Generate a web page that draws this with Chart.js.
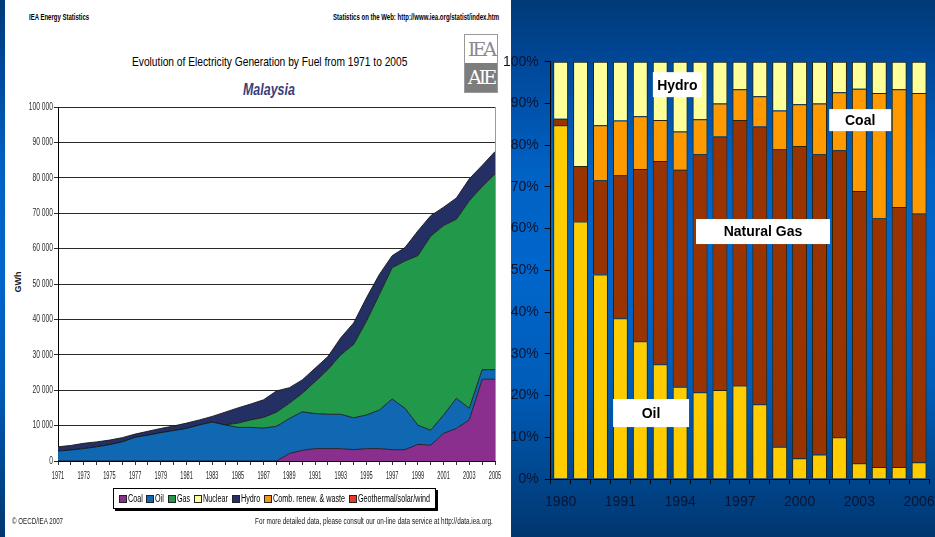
<!DOCTYPE html>
<html>
<head>
<meta charset="utf-8">
<script src="https://cdn.jsdelivr.net/npm/chart.js@4.4.0/dist/chart.umd.min.js"></script>
<style>
html,body{margin:0;padding:0;width:935px;height:537px;overflow:hidden;}
body{position:relative;background:linear-gradient(to bottom,#003a76 0%,#00489a 12%,#0062c4 32%,#0066cc 50%,#005cb8 72%,#004790 88%,#00366f 100%);
  font-family:"Liberation Sans",Arial,sans-serif;}
#paper{position:absolute;left:5px;top:0;width:506px;height:537px;background:#fff;}
.t{position:absolute;white-space:nowrap;color:#000;transform-origin:left center;}
#hdrL{left:29px;top:12px;font-size:8.5px;font-weight:bold;}
#hdrR{left:333px;top:12px;font-size:8.5px;font-weight:bold;}
#title{left:132px;top:54px;font-size:13px;}
#country{left:243px;top:80px;font-size:17px;font-weight:bold;font-style:italic;color:#3a3d78;}
#gwh{left:7px;top:277px;font-size:9px;font-weight:bold;transform:rotate(-90deg);transform-origin:center;color:#222;}
#logo{position:absolute;left:464px;top:34px;width:32px;height:57px;border:1px solid #999;background:#fff;overflow:hidden;}
#logo .a{height:28px;color:#8a8a8a;font:19px "DejaVu Serif",serif;text-align:center;line-height:28px;letter-spacing:-3px;}
#logo .b{height:29px;background:#7d7d7d;color:#fff;font:19px "DejaVu Serif",serif;text-align:center;line-height:29px;letter-spacing:-3px;}
#legend{position:absolute;left:113px;top:488px;width:321px;height:19px;border:1px solid #000;box-shadow:2px 2px 0 #000;background:#fff;
  display:flex;align-items:center;justify-content:center;gap:4px;font-size:10px;}
#legend .i{display:inline-flex;align-items:center;gap:1px;}
#legend .s{display:inline-block;width:6px;height:6px;border:1px solid #222;flex:none;}
#legend .w{display:inline-block;overflow:visible;white-space:nowrap;}
#legend .w span{display:inline-block;transform-origin:left center;}
#copy{left:12px;top:516px;font-size:8.5px;color:#222;}
#more{left:255px;top:516px;font-size:8.5px;color:#111;}
#leftWrap{position:absolute;left:5px;top:95px;width:505px;height:395px;}
#rightWrap{position:absolute;left:495px;top:40px;width:450px;height:497px;}
</style>
</head>
<body>
<div id="paper"></div>
<div class="t" id="hdrL">IEA Energy Statistics</div>
<div class="t" id="hdrR">Statistics on the Web: http://www.iea.org/statist/index.htm</div>
<div class="t" id="title">Evolution of Electricity Generation by Fuel from 1971 to 2005</div>
<div class="t" id="country">Malaysia</div>
<div id="logo"><div class="a">IEA</div><div class="b">AIE</div></div>
<div class="t" id="gwh">GWh</div>
<div id="leftWrap"><canvas id="genChart"></canvas></div>
<div id="legend"></div>
<div class="t" id="copy">© OECD/IEA 2007</div>
<div class="t" id="more">For more detailed data, please consult our on-line data service at http://data.iea.org.</div>
<div id="rightWrap"><canvas id="shareChart"></canvas></div>
<script>
// left chart: generation by fuel, GWh
const years = ['1971','1972','1973','1974','1975','1976','1977','1978','1979','1980',
  '1981','1982','1983','1984','1985','1986','1987','1988','1989','1990',
  '1991','1992','1993','1994','1995','1996','1997','1998','1999','2000',
  '2001','2002','2003','2004','2005'];
const coal = [0,0,0,0,0,0,0,0,0,0, 0,0,0,0,0,0,0,0,2100,3000,
  3500,3500,3500,3200,3500,3500,3200,3200,4700,4500, 7800,9200,11600,23100,23100];
const oil = [2800,3100,3500,4000,4600,5400,6700,7300,8000,8600,
  9200,10200,11000,10200,9500,9500,9300,9800,9900,10900,
  9900,9700,9700,9000,9500,10900,14300,11700,5400,4200, 5200,8500,3300,2700,2700];
const gas = [0,0,0,0,0,0,0,0,0,0, 0,0,0,0,1200,2100,3000,4000,4300,5200,
  9000,12600,16800,20700,26500,32600,37100,41600,47900,54800, 53500,50600,58600,51700,55300];
const hydro = [1200,1300,1500,1400,1300,1200,900,1100,1200,1300,
  1500,1400,1600,3600,4300,4500,5000,6000,4400,3800,
  3800,3700,4800,6100,6600,5700,3400,3800,7000,5800, 5200,6000,6200,6000,6300];
const legendNames = ['Coal','Oil','Gas','Nuclear','Hydro','Comb. renew. & waste','Geothermal/solar/wind'];
const legendColors = ['#8a2f8e','#1068b3','#21984a','#ffff99','#242f63','#f7941d','#e8392b'];

// right chart: share of generation, %
const shareYears = ['1980','1989','1990','1991','1992','1993','1994','1995','1996','1997',
  '1998','1999','2000','2001','2002','2003','2004','2005','2006'];
const oilPct = [84.8,61.7,49.0,38.5,33.0,27.5,22.1,20.8,21.3,22.4,17.9,7.7,5.0,5.9,10.0,3.8,2.9,2.9,4.0];
const gasPct = [1.5,13.3,22.6,34.3,41.3,48.7,52.0,57.0,60.8,63.6,66.6,71.3,74.8,71.9,68.8,65.2,59.6,62.3,59.6];
const coalPct = [0,0,13.2,13.1,12.6,9.8,9.2,8.4,7.9,7.4,7.2,9.3,10.0,12.2,13.9,24.5,30.0,28.2,28.9];
const hydroPct = [13.7,25.0,15.2,14.1,13.1,14.0,16.7,13.8,10.0,6.6,8.3,11.7,10.2,10.0,7.3,6.5,7.5,6.6,7.5];
const notes = [
  {text:'Hydro', at:5.86, pct:94.5, w:49, h:25},
  {text:'Coal', at:15.04, pct:86.0, w:62, h:22},
  {text:'Natural Gas', at:10.16, pct:59.3, w:134, h:25},
  {text:'Oil', at:4.54, pct:15.8, w:76, h:28}
];

// squeeze text to the narrow look of the original
function fit(id, w){
  const el = document.getElementById(id);
  el.style.transform = 'scaleX(' + (w / el.scrollWidth) + ')';
}

document.addEventListener('DOMContentLoaded', function(){
  fit('hdrL', 60); fit('hdrR', 166); fit('title', 275); fit('country', 52);
  fit('copy', 51); fit('more', 238);

  const lg = document.getElementById('legend');
  legendNames.forEach((n,i)=>{
    lg.insertAdjacentHTML('beforeend','<span class="i"><span class="s" style="background:'+legendColors[i]+'"></span><span class="w"><span>'+n+'</span></span></span>');
  });
  lg.querySelectorAll('.w').forEach(w=>{
    const inner = w.firstChild, nw = inner.getBoundingClientRect().width;
    inner.style.transform = 'scaleX(0.72)';
    w.style.width = (nw*0.72) + 'px';
  });

  const leftAxes = {
    id:'leftAxes',
    afterDraw(c){
      const a = c.chartArea, ctx = c.ctx, xs = c.scales.x, ys = c.scales.y;
      ctx.save();
      ctx.strokeStyle = '#9a9a9a'; ctx.lineWidth = 1;
      ctx.beginPath(); ctx.moveTo(a.right+0.5,a.top); ctx.lineTo(a.right+0.5,a.bottom); ctx.stroke();
      ctx.textBaseline = 'middle';
      ctx.font = '10px "Liberation Sans", Arial, sans-serif';
      ctx.fillStyle = '#1a1a1a'; ctx.textAlign = 'center';
      xs.ticks.forEach((t,i)=>{
        if(i%2) return;
        ctx.save(); ctx.translate(xs.getPixelForTick(i), a.bottom+15); ctx.scale(0.56,1);
        ctx.fillText(xs.getLabelForValue(t.value),0,0); ctx.restore();
      });
      ctx.font = '10.5px "Liberation Sans", Arial, sans-serif';
      ctx.fillStyle = '#2a2a2a'; ctx.textAlign = 'right';
      ys.ticks.forEach((t,i)=>{
        const s = String(t.value).replace(/\B(?=(\d{3})+(?!\d))/g,' ');
        ctx.save(); ctx.translate(a.left-5, ys.getPixelForTick(i)); ctx.scale(0.64,1);
        ctx.fillText(s,0,0); ctx.restore();
      });
      ctx.restore();
    }
  };

  function area(label, data, color, fill){
    return {label:label, data:data, backgroundColor:color, borderColor:'#1a1a1a', borderWidth:0.9,
      fill:fill, pointRadius:0, tension:0};
  }

  new Chart(document.getElementById('genChart').getContext('2d'),{
    type:'line',
    data:{labels:years, datasets:[
      area('Coal',coal,legendColors[0],'origin'),
      area('Oil',oil,legendColors[1],'-1'),
      area('Gas',gas,legendColors[2],'-1'),
      area('Hydro',hydro,legendColors[4],'-1')
    ]},
    options:{
      responsive:true, maintainAspectRatio:false, animation:false,
      layout:{padding:{top:12,right:15,left:0,bottom:0}},
      plugins:{legend:{display:false}, tooltip:{enabled:false}},
      scales:{
        x:{
          grid:{drawOnChartArea:false, tickLength:4, color:'#333'},
          border:{color:'#000'},
          ticks:{display:false, autoSkip:false},
          afterFit:s=>{ s.height = 29; }
        },
        y:{
          stacked:true, min:0, max:100000,
          grid:{color:'#2a2a2a', tickLength:4},
          border:{color:'#000'},
          ticks:{display:false, stepSize:10000},
          afterFit:s=>{ s.width = 53; }
        }
      }
    },
    plugins:[leftAxes]
  });

  const labels = {
    id:'labels',
    afterDatasetsDraw(c){
      const ctx = c.ctx, xs = c.scales.x, ys = c.scales.y;
      ctx.save();
      ctx.font = 'bold 14px "Liberation Sans", Arial, sans-serif';
      ctx.textAlign = 'center'; ctx.textBaseline = 'middle';
      notes.forEach(n=>{
        const px = xs.getPixelForValue(n.at), py = ys.getPixelForValue(n.pct);
        ctx.fillStyle = '#fff';
        ctx.fillRect(px-n.w/2, py-n.h/2, n.w, n.h);
        ctx.fillStyle = '#000';
        ctx.fillText(n.text, px, py+1);
      });
      ctx.restore();
    }
  };

  function bar(label, data, color){
    return {label:label, data:data, backgroundColor:color, borderColor:'#2a2200', borderWidth:1,
      barPercentage:0.75, categoryPercentage:1};
  }

  new Chart(document.getElementById('shareChart').getContext('2d'),{
    type:'bar',
    data:{labels:shareYears, datasets:[
      bar('Oil',oilPct,'#ffcc00'),
      bar('Natural Gas',gasPct,'#993300'),
      bar('Coal',coalPct,'#ff9900'),
      bar('Hydro',hydroPct,'#ffff99')
    ]},
    options:{
      responsive:true, maintainAspectRatio:false, animation:false,
      layout:{padding:{top:21.7,right:12.4,left:0,bottom:0}},
      plugins:{legend:{display:false}, tooltip:{enabled:false}},
      scales:{
        x:{
          stacked:true,
          grid:{drawOnChartArea:false, offset:true, tickLength:5, color:'#000'},
          border:{color:'#000'},
          ticks:{autoSkip:false, maxRotation:0, padding:10, color:'#0a1430',
            font:{family:'"Liberation Sans", Arial, sans-serif', size:14},
            callback:function(v,i){ return i%3===0 ? this.getLabelForValue(v) : ''; }},
          afterFit:s=>{ s.height = 58; }
        },
        y:{
          stacked:true, min:0, max:100,
          grid:{drawOnChartArea:false, tickLength:6, color:'#000'},
          border:{color:'#000'},
          ticks:{stepSize:10, padding:6, color:'#0a1430',
            font:{family:'"Liberation Sans", Arial, sans-serif', size:14},
            callback:v=>v+'%'},
          afterFit:s=>{ s.width = 55.7; }
        }
      }
    },
    plugins:[labels]
  });
});
</script>
</body>
</html>
